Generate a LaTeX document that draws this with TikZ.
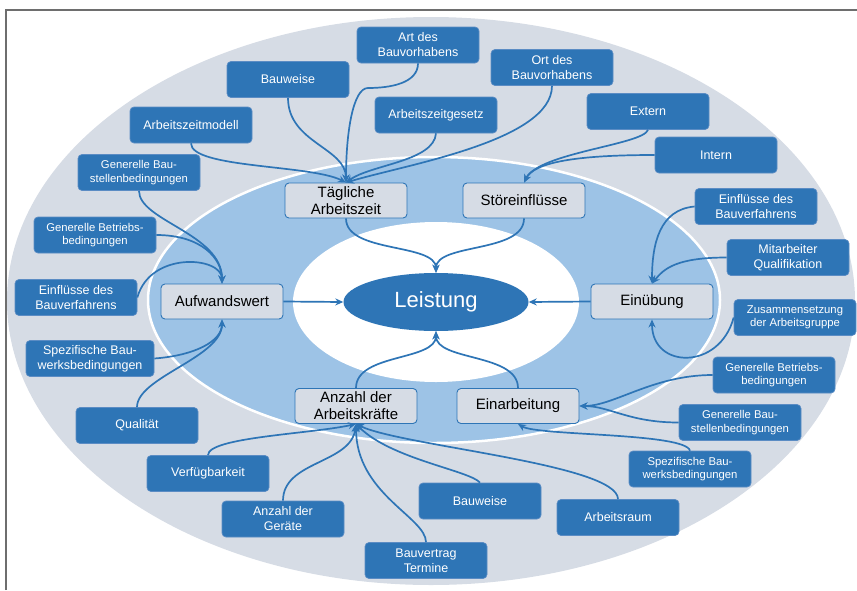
\documentclass[tikz,border=0pt]{standalone}
\usepackage{fontspec}
\setmainfont{Liberation Sans}
\usetikzlibrary{arrows.meta,shapes.geometric}
\definecolor{cblue}{HTML}{2E75B6}
\definecolor{cgray}{HTML}{D6DCE5}
\definecolor{cmid}{HTML}{9DC3E6}
\definecolor{cframe}{HTML}{6E6E6E}
\definecolor{cbord}{HTML}{5B8CC4}
\begin{document}
\begin{tikzpicture}[x=1pt,y=-1pt,
 bluebox/.style={rectangle, rounded corners=4pt, fill=cblue, draw=cbord, line width=0.7pt, text=white, minimum width=122pt, minimum height=36pt, align=center, inner sep=1pt, font=\fontsize{12.5}{15}\selectfont},
 smalltext/.style={font=\fontsize{11.3}{13.5}\selectfont},
 graybox/.style={rectangle, rounded corners=4pt, fill=cgray, draw=cblue, line width=0.9pt, text=black, minimum width=122pt, minimum height=35pt, align=center, inner sep=1pt, font=\fontsize{15}{17}\selectfont},
 conn/.style={draw=cblue, line width=1.7pt, -{Stealth[length=8pt,width=7pt]}}]
\useasboundingbox (0,0) rectangle (857,590);
% background
\fill[cgray] (431,301) ellipse [x radius=424pt, y radius=284pt];
\filldraw[fill=cmid, draw=white, line width=2.5pt] (434,300) ellipse [x radius=286pt, y radius=143pt];
\fill[white] (436,302) ellipse [x radius=143pt, y radius=80pt];
\draw[cframe, line width=2pt] (6,590) -- (6,10) -- (857,10);
% blue boxes
\node[bluebox] (art) at (418,45) {Art des\\Bauvorhabens};
\node[bluebox] (bauw1) at (288,79.5) {Bauweise};
\node[bluebox] (azg) at (436,115) {Arbeitszeitgesetz};
\node[bluebox] (ort) at (552,67.5) {Ort des\\Bauvorhabens};
\node[bluebox] (azm) at (191,125) {Arbeitszeitmodell};
\node[bluebox] (ext) at (648,111.5) {Extern};
\node[bluebox] (int) at (716,155) {Intern};
\node[bluebox,smalltext] (gbau1) at (139,172.5) {Generelle Bau-\\stellenbedingungen};
\node[bluebox,smalltext] (gbet1) at (95,235) {Generelle Betriebs-\\bedingungen};
\node[bluebox] (einfl1) at (76,297.5) {Einflüsse des\\Bauverfahrens};
\node[bluebox,minimum width=128pt] (spez1) at (90,358.5) {Spezifische Bau-\\werksbedingungen};
\node[bluebox] (qual) at (137,425.5) {Qualität};
\node[bluebox] (verf) at (208,473.5) {Verfügbarkeit};
\node[bluebox] (geraete) at (283,519) {Anzahl der\\Geräte};
\node[bluebox] (bvt) at (426,560.5) {Bauvertrag\\Termine};
\node[bluebox] (bauw2) at (480,501) {Bauweise};
\node[bluebox] (araum) at (618,517.5) {Arbeitsraum};
\node[bluebox,smalltext] (spez2) at (690,469) {Spezifische Bau-\\werksbedingungen};
\node[bluebox,smalltext] (gbau2) at (740,422.5) {Generelle Bau-\\stellenbedingungen};
\node[bluebox,smalltext] (gbet2) at (774,375) {Generelle Betriebs-\\bedingungen};
\node[bluebox,smalltext] (zus) at (795,317.5) {Zusammensetzung\\der Arbeitsgruppe};
\node[bluebox] (mit) at (788,257.5) {Mitarbeiter\\Qualifikation};
\node[bluebox] (einfl2) at (756,206.5) {Einflüsse des\\Bauverfahrens};
% gray boxes
\node[graybox] (taeg) at (346,200.5) {Tägliche\\Arbeitszeit};
\node[graybox] (stoer) at (524,200.5) {Störeinflüsse};
\node[graybox] (aufw) at (222,301.5) {Aufwandswert};
\node[graybox] (einueb) at (652,301.5) {Einübung};
\node[graybox] (anz) at (356,406) {Anzahl der\\Arbeitskräfte};
\node[graybox] (einarb) at (518,406) {Einarbeitung};
% centre
\node[ellipse, fill=cblue, text=white, minimum width=185pt, minimum height=58pt, inner sep=0pt, font=\fontsize{22}{24}\selectfont] (leist) at (436,302) {Leistung};
% connectors
\coordinate (artbend) at (368,88);
\draw[conn] (azm.south) .. controls +(0,25) and +(-35,-18) .. (taeg.north);
\draw[conn] (bauw1.south) .. controls +(0,45) and +(0,-35) .. (taeg.north);
\draw[conn] (art.south) .. controls +(0,20) and +(22,0) .. (artbend) .. controls +(-15,0) and +(0,-50) .. (taeg.north);
\draw[conn] (azg.south) .. controls +(-2,28) and +(25,-18) .. (taeg.north);
\draw[conn] (ort.south) .. controls +(0,55) and +(60,-18) .. (taeg.north);
\draw[conn] (ext.south) .. controls +(-5,15) and +(15,-30) .. (stoer.north);
\draw[conn] (int.west) .. controls +(-80,0) and +(10,-20) .. (stoer.north);
\draw[conn] (taeg.south) .. controls +(0,35) and +(0,-30) .. (leist.north);
\draw[conn] (stoer.south) .. controls +(0,35) and +(0,-30) .. (leist.north);
\draw[conn] (gbau1.south) .. controls +(0,30) and +(0,-50) .. (aufw.north);
\draw[conn] (gbet1.east) .. controls +(45,0) and +(0,-25) .. (aufw.north);
\draw[conn] (einfl1.east) .. controls +(13,-47) and +(0,-27) .. (aufw.north);
\draw[conn] (spez1.east) .. controls +(40,-3) and +(0,22) .. (aufw.south);
\draw[conn] (qual.north) .. controls +(0,-30) and +(0,38) .. (aufw.south);
\draw[conn] (aufw.east) -- (leist.west);
\draw[conn] (einueb.west) -- (leist.east);
\draw[conn] (einfl2.west) .. controls +(-35,3) and +(0,-40) .. (einueb.north);
\draw[conn] (mit.west) .. controls +(-50,0) and +(12,-15) .. (einueb.north);
\draw[conn] (zus.west) .. controls +(-14,53) and +(0,50) .. (einueb.south);
\draw[conn] (gbet2.west) .. controls +(-60,0) and +(35,0) .. (einarb.east);
\draw[conn] (gbau2.west) .. controls +(-50,0) and +(30,0) .. (einarb.east);
\draw[conn] (spez2.north) .. controls +(-5,-18) and +(20,12) .. (einarb.south);
\draw[conn] (verf.north) .. controls +(0,-18) and +(-45,10) .. (anz.south);
\draw[conn] (geraete.north) .. controls +(0,-40) and +(-5,40) .. (anz.south);
\draw[conn] (bvt.north) .. controls +(0,-25) and +(0,70) .. (anz.south);
\draw[conn] (bauw2.north) .. controls +(-10,-12) and +(35,35) .. (anz.south);
\draw[conn] (araum.north) .. controls +(0,-35) and +(45,22) .. (anz.south);
\draw[conn] (anz.north) .. controls +(0,-35) and +(0,30) .. (leist.south);
\draw[conn] (einarb.north) .. controls +(0,-35) and +(0,30) .. (leist.south);
\end{tikzpicture}
\end{document}
